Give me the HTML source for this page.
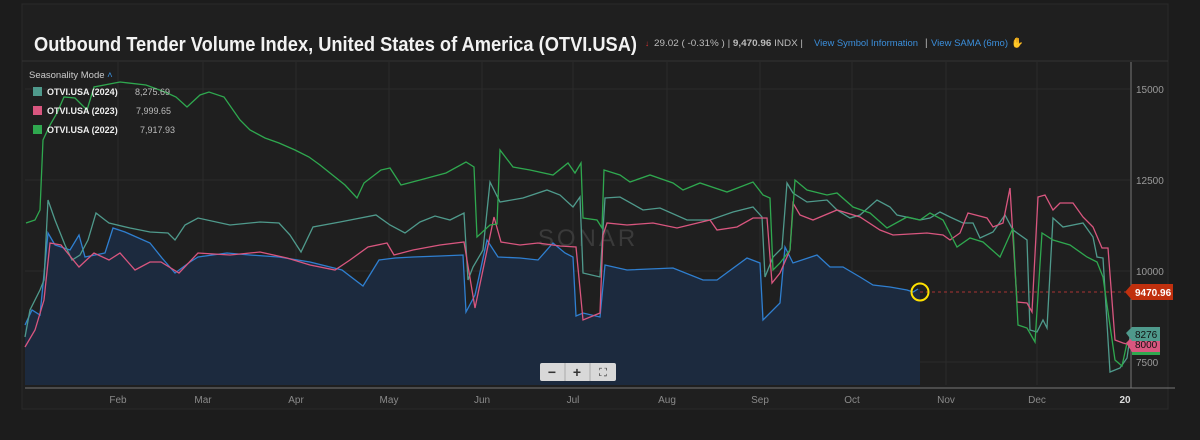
<!DOCTYPE html>
<html><head><style>
body{margin:0;background:#1c1c1c;width:1200px;height:435px;overflow:hidden;font-family:"Liberation Sans",sans-serif}
</style></head><body>
<svg width="1200" height="435" xmlns="http://www.w3.org/2000/svg" font-family="Liberation Sans, sans-serif">
<rect width="1200" height="435" fill="#1c1c1c"/>
<rect x="22" y="4" width="1146" height="405" fill="#1f1f1f" stroke="#2a2a2a"/>
<line x1="22" y1="61" x2="1168" y2="61" stroke="#333"/>
<text x="34" y="51" fill="#f2f2f2" font-size="20" font-weight="bold" textLength="603" lengthAdjust="spacingAndGlyphs">Outbound Tender Volume Index, United States of America (OTVI.USA)</text>
<text x="645" y="46" fill="#d33" font-size="8">↓</text>
<text x="654" y="46" fill="#bbb" font-size="9" textLength="149" lengthAdjust="spacingAndGlyphs">29.02 ( -0.31% )  |  <tspan font-weight="bold">9,470.96</tspan> INDX  |</text>
<text x="814" y="46" fill="#3b8fdc" font-size="9" textLength="104" lengthAdjust="spacingAndGlyphs">View Symbol Information</text>
<text x="925" y="46" fill="#bbb" font-size="10">|</text>
<text x="931" y="46" fill="#3b8fdc" font-size="9" textLength="77" lengthAdjust="spacingAndGlyphs">View SAMA (6mo)</text>
<text x="1011" y="46" fill="#e6c300" font-size="10">✋</text>
<!-- grid -->
<g stroke="#2b2b2b" stroke-width="1">
<line x1="25" y1="89" x2="1130" y2="89"/><line x1="25" y1="180" x2="1130" y2="180"/><line x1="25" y1="271" x2="1130" y2="271"/><line x1="25" y1="362" x2="1130" y2="362"/>
<line x1="118" y1="62" x2="118" y2="385"/><line x1="203" y1="62" x2="203" y2="385"/><line x1="296" y1="62" x2="296" y2="385"/><line x1="389" y1="62" x2="389" y2="385"/><line x1="482" y1="62" x2="482" y2="385"/><line x1="573" y1="62" x2="573" y2="385"/><line x1="667" y1="62" x2="667" y2="385"/><line x1="760" y1="62" x2="760" y2="385"/><line x1="852" y1="62" x2="852" y2="385"/><line x1="946" y1="62" x2="946" y2="385"/><line x1="1037" y1="62" x2="1037" y2="385"/>
</g>
<text x="588" y="246" fill="#3a3a3a" font-size="24" text-anchor="middle" letter-spacing="3">SONAR</text>
<!-- blue area -->
<polygon fill="#1c2a3e" points="25,385 25,325 32,310 40,315 48,233 55,245 70,250 79,235 85,257 105,253 113,228 125,232 150,243 162,258 175,273 190,262 198,257 227,253 250,255 279,257 310,262 342,270 363,286 379,260 395,258 413,257 440,256 463,255 466,312 475,295 487,240 498,257 520,258 538,260 553,243 565,253 573,257 576,316 583,313 600,317 605,265 627,270 673,268 703,280 717,280 747,258 760,263 763,320 780,303 785,247 793,263 817,255 830,267 843,267 860,277 873,285 890,287 907,290 913,292 918,289 920,289 920,385"/>
<polyline fill="none" stroke="#2f7fd0" stroke-width="1.3" points="25,325 32,310 40,315 48,233 55,245 70,250 79,235 85,257 105,253 113,228 125,232 150,243 162,258 175,273 190,262 198,257 227,253 250,255 279,257 310,262 342,270 363,286 379,260 395,258 413,257 440,256 463,255 466,312 475,295 487,240 498,257 520,258 538,260 553,243 565,253 573,257 576,316 583,313 600,317 605,265 627,270 673,268 703,280 717,280 747,258 760,263 763,320 780,303 785,247 793,263 817,255 830,267 843,267 860,277 873,285 890,287 907,290 913,292 918,289"/>
<line x1="920" y1="292" x2="1130" y2="292" stroke="#a33" stroke-dasharray="3,3"/>
<!-- teal -->
<polyline fill="none" stroke="#4f9a8c" stroke-width="1.3" points="25,337 30,310 40,290 44,280 48,200 55,220 65,245 72,260 80,255 88,240 96,213 105,220 109,223 130,228 150,232 168,233 175,240 185,225 198,218 230,225 260,222 279,223 290,235 301,252 313,227 340,222 376,215 390,225 405,233 420,222 435,216 450,220 464,213 468,280 473,267 483,250 490,182 500,202 523,198 547,190 560,195 573,207 580,197 583,273 600,277 605,198 620,197 643,210 660,208 687,220 710,220 733,212 753,207 762,217 765,277 773,257 782,248 787,183 793,193 807,202 827,200 837,210 850,218 860,215 877,200 890,207 897,215 920,220 930,218 940,212 950,217 963,223 973,223 980,238 993,232 1005,215 1013,230 1027,240 1030,330 1037,332 1043,320 1047,328 1053,218 1063,227 1083,223 1093,237 1097,257 1103,258 1110,372 1120,368 1127,358 1130,337"/>
<!-- pink -->
<polyline fill="none" stroke="#d9567f" stroke-width="1.3" points="25,347 35,330 44,300 50,243 61,245 79,267 94,253 109,260 120,253 135,270 150,262 161,262 179,273 198,253 230,255 260,252 287,258 310,265 335,270 350,260 368,247 387,243 394,255 413,250 440,245 464,242 475,308 494,217 501,242 520,245 538,243 560,246 576,247 583,320 600,313 603,235 607,223 627,225 653,223 677,228 710,220 717,230 737,227 753,218 767,218 772,283 780,273 790,250 793,203 800,215 813,220 837,210 860,217 880,230 893,235 927,233 943,235 950,240 960,233 968,213 987,218 993,227 1003,223 1010,188 1017,302 1027,303 1032,312 1038,197 1045,195 1053,210 1060,203 1073,203 1083,217 1093,227 1102,248 1108,248 1115,340 1123,343 1130,345"/>
<!-- green -->
<polyline fill="none" stroke="#2fa84f" stroke-width="1.3" points="26,223 35,220 40,210 43,140 50,125 57,113 64,97 75,98 87,110 94,87 120,82 146,85 165,92 176,97 187,107 200,95 209,92 224,97 240,120 250,130 265,138 279,143 295,150 309,157 320,165 335,177 345,185 357,198 364,183 381,170 390,168 401,185 420,180 446,173 466,162 474,167 477,237 490,225 497,224 500,150 513,167 530,170 553,175 568,163 575,173 581,163 583,218 597,220 602,228 604,170 620,175 630,182 650,175 673,183 683,190 700,183 727,192 753,182 763,195 770,198 773,270 780,263 790,250 795,180 807,190 827,195 837,193 853,207 870,213 887,228 907,217 920,220 930,213 943,220 957,247 970,238 983,242 1000,257 1013,228 1018,325 1027,328 1035,342 1042,233 1053,240 1070,245 1087,257 1097,262 1103,277 1107,305 1115,360 1122,366 1127,343 1130,343"/>
<circle cx="920" cy="292" r="8.5" fill="none" stroke="#ffe100" stroke-width="2"/>
<!-- axes -->
<line x1="1131" y1="62" x2="1131" y2="388" stroke="#777"/>
<line x1="25" y1="388" x2="1175" y2="388" stroke="#777"/>
<g fill="#9a9a9a" font-size="10">
<text x="1136" y="93">15000</text><text x="1136" y="184">12500</text><text x="1136" y="275">10000</text><text x="1136" y="366">7500</text>
</g>
<g fill="#8a8a8a" font-size="10" text-anchor="middle">
<text x="118" y="403">Feb</text><text x="203" y="403">Mar</text><text x="296" y="403">Apr</text><text x="389" y="403">May</text><text x="482" y="403">Jun</text><text x="573" y="403">Jul</text><text x="667" y="403">Aug</text><text x="760" y="403">Sep</text><text x="852" y="403">Oct</text><text x="946" y="403">Nov</text><text x="1037" y="403">Dec</text><text x="1125" y="403" fill="#ddd" font-weight="bold">20</text>
</g>
<!-- labels -->
<polygon points="1125,292 1132,284 1173,284 1173,300 1132,300" fill="#c0300e"/>
<text x="1135" y="296" fill="#fff" font-size="10" font-weight="bold">9470.96</text>
<polygon points="1126,343 1132,337 1160,337 1160,352 1132,352" fill="#d9567f"/>
<rect x="1132" y="352" width="28" height="3" fill="#2fa84f"/>
<polygon points="1126,333 1132,327 1160,327 1160,341 1132,341" fill="#4f9a8c"/>
<text x="1135" y="338" fill="#111" font-size="10">8276</text>
<text x="1135" y="348" fill="#111" font-size="10">8000</text>
<!-- legend -->
<text x="29" y="78" fill="#ccc" font-size="9.5">Seasonality Mode <tspan fill="#3b8fdc">˄</tspan></text>
<rect x="33" y="87" width="9" height="9" fill="#4f9a8c"/><text x="47" y="95" fill="#eee" font-size="9" font-weight="bold">OTVI.USA (2024)</text><text x="135" y="95" fill="#bbb" font-size="9">8,275.69</text>
<rect x="33" y="106" width="9" height="9" fill="#d9567f"/><text x="47" y="114" fill="#eee" font-size="9" font-weight="bold">OTVI.USA (2023)</text><text x="136" y="114" fill="#bbb" font-size="9">7,999.65</text>
<rect x="33" y="125" width="9" height="9" fill="#2fa84f"/><text x="47" y="133" fill="#eee" font-size="9" font-weight="bold">OTVI.USA (2022)</text><text x="140" y="133" fill="#bbb" font-size="9">7,917.93</text>
<!-- zoom buttons -->
<rect x="540" y="363" width="76" height="18" rx="2" fill="#d8d8d8"/>
<line x1="565" y1="363" x2="565" y2="381" stroke="#aaa"/><line x1="590" y1="363" x2="590" y2="381" stroke="#aaa"/>
<text x="552" y="377" fill="#333" font-size="14" text-anchor="middle" font-weight="bold">−</text>
<text x="577" y="377" fill="#333" font-size="14" text-anchor="middle" font-weight="bold">+</text>
<text x="603" y="376" fill="#333" font-size="11" text-anchor="middle">⛶</text>
</svg>
</body></html>
